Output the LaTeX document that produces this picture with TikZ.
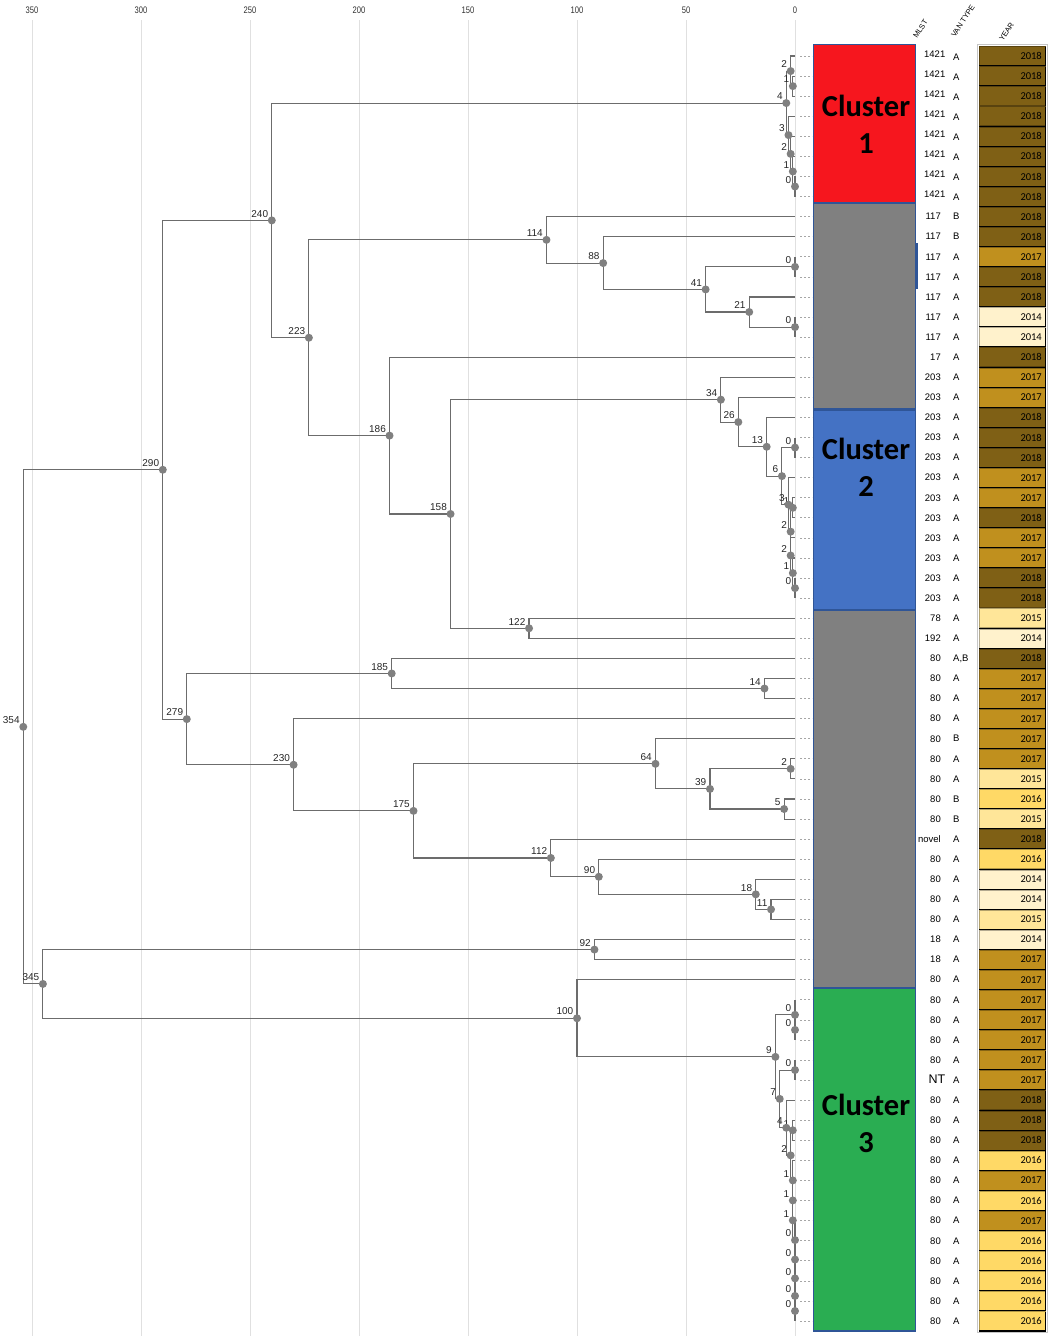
\documentclass[tikz,border=0pt]{standalone}
\usepackage{fontspec}
\setmainfont{Liberation Sans}
\newfontfamily\carl{Carlito}
\usetikzlibrary{calc}
\pgfdeclarelayer{fg}
\pgfsetlayers{main,fg}
\definecolor{treeline}{RGB}{108,108,108}
\definecolor{dotc}{RGB}{128,128,128}
\definecolor{gridc}{RGB}{224,224,224}
\definecolor{cred}{RGB}{246,22,30}
\definecolor{cgray}{RGB}{128,128,128}
\definecolor{cblue}{RGB}{68,114,196}
\definecolor{cgreen}{RGB}{42,173,82}
\definecolor{cborder}{RGB}{47,85,151}
\definecolor{y2014}{HTML}{FFF2CC}
\definecolor{y2015}{HTML}{FFE699}
\definecolor{y2016}{HTML}{FFD966}
\definecolor{y2017}{HTML}{C0901E}
\definecolor{y2018}{HTML}{7F6015}
\newcommand\vAB{A,B}
\tikzset{
  tl/.style={treeline, line width=1.1pt},
  lab/.style={font=\fontsize{10}{10}\selectfont, inner sep=0pt, text=black!85},
  mlfont/.style={font=\fontsize{9.5}{10}\selectfont, inner sep=0pt},
  stub/.style={gray!70, line width=0.7pt, dash pattern=on 2pt off 2pt},
  clus/.style={cborder, line width=1.6pt},
  clab/.style={font=\carl\bfseries\fontsize{30.5}{37}\selectfont, align=center, inner sep=0pt},
  hdr/.style={font=\fontsize{7.5}{8}\selectfont, inner sep=0pt, rotate=57, anchor=base west}
}
\newcommand\tnd[4]{%
  \path let \p1=(#3), \p2=(#4) in ({(795-2.18*#2)*1pt},{0.5*\y1+0.5*\y2}) coordinate (#1);
  \draw[tl] (#3) -| (#1) |- (#4);
  \begin{pgfonlayer}{fg}
    \fill[dotc] (#1) circle[radius=4pt];
    \node[lab, anchor=south east] at ([xshift=-3.5pt,yshift=3pt]#1) {#2};
  \end{pgfonlayer}
}
\begin{document}
\begin{tikzpicture}[x=1pt,y=-1pt]
\useasboundingbox (0,0) rectangle (1050,1339);
\fill[white] (0,0) rectangle (1050,1339);
% grid and axis
\foreach \k in {0,...,7}{
  \pgfmathtruncatemacro\lb{50*\k}
  \draw[gridc, line width=1pt] ({795-109*\k},20) -- ({795-109*\k},1336);
  \node[inner sep=0pt, font=\fontsize{9.5}{10}\selectfont, text=black!80] (ax\k) at ({795-109*\k},10) {\scalebox{0.8}[1]{\lb}};
}
% leaves
\foreach \i in {1,...,64}{
  \coordinate (L\i) at (795,{56+(\i-1)*20.08});
  \draw[stub] (800,{56+(\i-1)*20.08}) -- (812,{56+(\i-1)*20.08});
}
% cluster 1
\tnd{ca}{0}{L7}{L8}
\tnd{cb}{1}{L6}{ca}
\tnd{cc}{2}{L5}{cb}
\tnd{cd}{3}{L4}{cc}
\tnd{ce}{1}{L2}{L3}
\tnd{cf}{2}{L1}{ce}
\tnd{cg}{4}{cf}{cd}
% 117 group
\tnd{aa}{0}{L11}{L12}
\tnd{ab}{0}{L14}{L15}
\tnd{n21}{21}{L13}{ab}
\tnd{n41}{41}{aa}{n21}
\tnd{n88}{88}{L10}{n41}
\tnd{n114}{114}{L9}{n88}
% cluster 2
\tnd{da}{0}{L27}{L28}
\tnd{db}{1}{L26}{da}
\tnd{dc}{2}{L25}{db}
\tnd{ea}{1}{L23}{L24}
\tnd{eb}{2}{ea}{dc}
\tnd{n3}{3}{L22}{eb}
\tnd{fa}{0}{L20}{L21}
\tnd{n6}{6}{fa}{n3}
\tnd{n13}{13}{L19}{n6}
\tnd{n26}{26}{L18}{n13}
\tnd{n34}{34}{L17}{n26}
\tnd{n122}{122}{L29}{L30}
\tnd{n158}{158}{n34}{n122}
\tnd{n186}{186}{L16}{n158}
\tnd{n223}{223}{n114}{n186}
\tnd{n240}{240}{cg}{n223}
% lower part
\tnd{n14}{14}{L32}{L33}
\tnd{n185}{185}{L31}{n14}
\tnd{ga}{2}{L36}{L37}
\tnd{n5}{5}{L38}{L39}
\tnd{n39}{39}{ga}{n5}
\tnd{n64}{64}{L35}{n39}
\tnd{n11}{11}{L43}{L44}
\tnd{n18}{18}{L42}{n11}
\tnd{n90}{90}{L41}{n18}
\tnd{n112}{112}{L40}{n90}
\tnd{n175}{175}{n64}{n112}
\tnd{n230}{230}{L34}{n175}
\tnd{n279}{279}{n185}{n230}
\tnd{n290}{290}{n240}{n279}
% cluster 3
\tnd{ha}{0}{L49}{L50}
\tnd{hb}{0}{L48}{ha}
\tnd{hc}{0}{L51}{L52}
\tnd{ka}{0}{L63}{L64}
\tnd{kb}{0}{L62}{ka}
\tnd{kc}{0}{L61}{kb}
\tnd{kd}{0}{L60}{kc}
\tnd{ke}{0}{L59}{kd}
\tnd{kf}{1}{L58}{ke}
\tnd{kg}{1}{L57}{kf}
\tnd{kh}{1}{L56}{kg}
\tnd{ki}{1}{L54}{L55}
\tnd{kj}{2}{ki}{kh}
\tnd{n4}{4}{L53}{kj}
\tnd{n7}{7}{hc}{n4}
\tnd{n9}{9}{hb}{n7}
\tnd{n100}{100}{L47}{n9}
\tnd{n92}{92}{L45}{L46}
\tnd{n345}{345}{n92}{n100}
\tnd{n354}{354}{n290}{n345}
% cluster column
\fill[cred] (813.5,44.5) rectangle (915.5,203);
\fill[cgray] (813.5,203) rectangle (915.5,410);
\fill[cblue] (813.5,410) rectangle (915.5,610);
\fill[cgray] (813.5,610) rectangle (915.5,988);
\fill[cgreen] (813.5,988) rectangle (915.5,1331);
\draw[clus] (813.5,44.5) rectangle (915.5,203);
\draw[clus] (813.5,203) rectangle (915.5,410);
\draw[clus] (813.5,410) rectangle (915.5,610);
\draw[clus] (813.5,610) rectangle (915.5,988);
\draw[clus] (813.5,988) rectangle (915.5,1331);
\draw[cborder, line width=3pt] (813.5,409) -- (915.5,409);
\draw[cborder, line width=1.5pt] (917,243) -- (917,289);
\node[clab] (cl1) at (866,124) {Cluster\\1};
\node[clab] (cl2) at (866,467) {Cluster\\2};
\node[clab] (cl3) at (866,1123) {Cluster\\3};
% headers
\node[hdr] (hm) at (917,39) {MLST};
\node[hdr] (hv) at (955,38) {VAN TYPE};
\node[hdr] (hy) at (1003,42) {YEAR};
% year column
\draw[gray!45, line width=1pt] (977.5,44.5) rectangle (1047,1332);
\foreach \yr [count=\i] in {2018,2018,2018,2018,2018,2018,2018,2018,
  2018,2018,2017,2018,2018,2014,2014,2018,2017,2017,2018,2018,2018,2017,2017,2018,2017,2017,2018,2018,
  2015,2014,2018,2017,2017,2017,2017,2017,2015,2016,2015,2018,2016,2014,2014,2015,2014,2017,
  2017,2017,2017,2017,2017,2017,2018,2018,2018,2016,2017,2016,2017,2016,2016,2016,2016,2016}{
  \pgfmathsetmacro\yy{56+(\i-1)*20.08}
  \fill[y\yr] (979,\yy-9.5) rectangle (1045,\yy+9.5);
  \draw[y\yr!70!black, line width=0.5pt] (979,\yy-9.5) rectangle (1045,\yy+9.5);
  \draw[black, line width=1.3pt] (979,\yy+10) -- (1045.6,\yy+10) -- (1045.6,\yy-9.5);
  \node[anchor=east, inner sep=0pt, font=\carl\fontsize{10.5}{11}\selectfont] (yr\i) at (1042,\yy) {\yr};
}
% MLST and VAN for rows 1-8
\foreach \i in {1,...,8}{
  \pgfmathsetmacro\yy{56+(\i-1)*20.08}
  \node[mlfont, anchor=east] (ml\i) at (945.5,\yy-2) {1421};
  \node[mlfont, anchor=west] (vt\i) at (953,\yy+1) {A};
}
\foreach \m/\v [count=\i from 9] in {117/B,117/B,117/A,117/A,117/A,117/A,117/A,17/A,
  203/A,203/A,203/A,203/A,203/A,203/A,203/A,203/A,203/A,203/A,203/A,203/A,
  78/A,192/A,80/\vAB,80/A,80/A,80/A,80/B,80/A,80/A,80/B,80/B,novel/A,80/A,80/A,80/A,80/A,
  18/A,18/A,80/A,80/A,80/A,80/A,80/A,{}/A,80/A,80/A,80/A,80/A,80/A,80/A,80/A,80/A,80/A,80/A,80/A,80/A}{
  \pgfmathsetmacro\yy{56+(\i-1)*20.08}
  \node[mlfont, anchor=east] (ml\i) at (941,\yy) {\m};
  \node[mlfont, anchor=west] (vt\i) at (953,\yy) {\v};
}
\node[inner sep=0pt, font=\fontsize{12.5}{13}\selectfont, anchor=east] (ntl) at (945.5,{56+51*20.08-1}) {NT};
\end{tikzpicture}
\end{document}
